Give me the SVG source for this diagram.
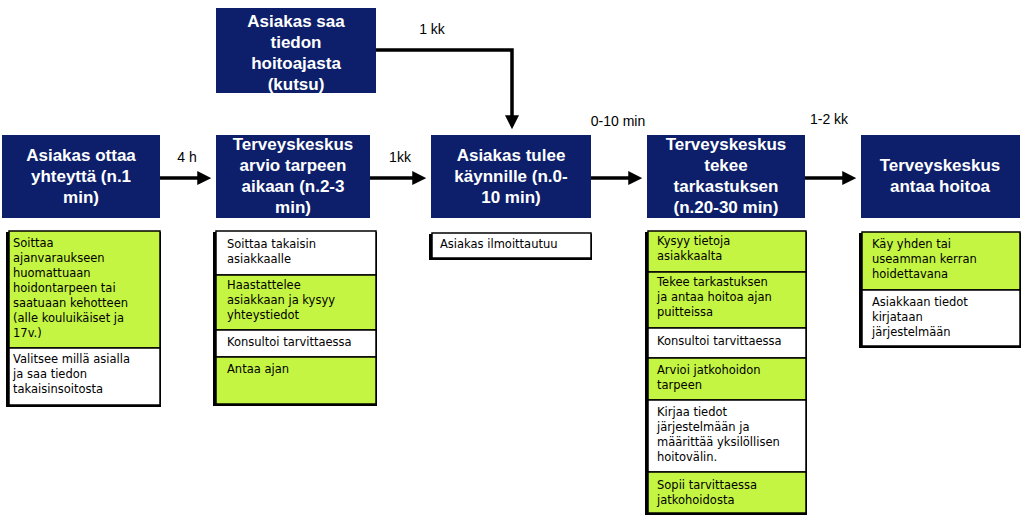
<svg xmlns="http://www.w3.org/2000/svg" width="1024" height="516" viewBox="0 0 1024 516">
<style>
.h{fill:#0d1f6b}
.ht{font-family:"Liberation Sans",Arial,sans-serif;font-weight:bold;font-size:17px;fill:#fff;text-anchor:middle}
.g{fill:#c4f542;stroke:#000;stroke-width:1.5}
.w{fill:#fff;stroke:#000;stroke-width:1.5}
.sh{fill:#000}
.t{font-family:"DejaVu Sans",Verdana,sans-serif;font-size:11.5px;fill:#000}
.lb{font-family:"Liberation Sans",Arial,sans-serif;font-size:14px;fill:#000;text-anchor:middle}
.c{stroke:#000;stroke-width:3.5;fill:none}
</style>
<defs><marker id="a" markerWidth="4" markerHeight="4" refX="2.5" refY="2" orient="auto"><path d="M0,0L4,2L0,4z" fill="#000"/></marker></defs>
<g id="connectors">
<line class="c" x1="160" y1="178" x2="206" y2="178" marker-end="url(#a)"/>
<line class="c" x1="370" y1="178" x2="421" y2="178" marker-end="url(#a)"/>
<line class="c" x1="591" y1="178" x2="637" y2="178" marker-end="url(#a)"/>
<line class="c" x1="805" y1="178" x2="851" y2="178" marker-end="url(#a)"/>
<path class="c" d="M376,50H512V124" marker-end="url(#a)"/>
<text class="lb" x="187" y="162">4 h</text>
<text class="lb" x="400" y="162">1kk</text>
<text class="lb" x="618" y="126">0-10 min</text>
<text class="lb" x="829" y="124">1-2 kk</text>
<text class="lb" x="432" y="34">1 kk</text>
</g>
<g id="top"><rect class="h" x="216" y="8" width="160" height="85"/>
<text class="ht" y="27"><tspan x="296">Asiakas saa</tspan><tspan x="296" dy="21">tiedon</tspan><tspan x="296" dy="21">hoitoajasta</tspan><tspan x="296" dy="21">(kutsu)</tspan></text></g>
<g id="n1"><rect class="h" x="2" y="135" width="158" height="83"/>
<text class="ht" y="161"><tspan x="81">Asiakas ottaa</tspan><tspan x="81" dy="21">yhteyttä (n.1</tspan><tspan x="81" dy="21">min)</tspan></text></g>
<g id="n2"><rect class="h" x="216" y="135" width="154" height="83"/>
<text class="ht" y="150"><tspan x="293">Terveyskeskus</tspan><tspan x="293" dy="21">arvio tarpeen</tspan><tspan x="293" dy="21">aikaan (n.2-3</tspan><tspan x="293" dy="21">min)</tspan></text></g>
<g id="n3"><rect class="h" x="431" y="135" width="160" height="83"/>
<text class="ht" y="161"><tspan x="511">Asiakas tulee</tspan><tspan x="511" dy="21">käynnille (n.0-</tspan><tspan x="511" dy="21">10 min)</tspan></text></g>
<g id="n4"><rect class="h" x="647" y="135" width="158" height="83"/>
<text class="ht" y="150"><tspan x="726">Terveyskeskus</tspan><tspan x="726" dy="21">tekee</tspan><tspan x="726" dy="21">tarkastuksen</tspan><tspan x="726" dy="21">(n.20-30 min)</tspan></text></g>
<g id="n5"><rect class="h" x="861" y="135" width="159" height="83"/>
<text class="ht" y="171"><tspan x="940">Terveyskeskus</tspan><tspan x="940" dy="21">antaa hoitoa</tspan></text></g>
<g id="l1"><rect class="sh" x="6" y="232" width="155" height="175"/>
<rect class="g" x="9" y="231" width="151" height="117"/><rect class="w" x="9" y="348" width="151" height="57"/>
<text class="t" y="247"><tspan x="13">Soittaa</tspan><tspan x="13" dy="15">ajanvaraukseen</tspan><tspan x="13" dy="15">huomattuaan</tspan><tspan x="13" dy="15">hoidontarpeen  tai</tspan><tspan x="13" dy="15">saatuaan kehotteen</tspan><tspan x="13" dy="15">(alle kouluikäiset  ja</tspan><tspan x="13" dy="15">17v.)</tspan></text>
<text class="t" y="363"><tspan x="13">Valitsee  millä  asialla</tspan><tspan x="13" dy="15">ja saa tiedon</tspan><tspan x="13" dy="15">takaisinsoitosta</tspan></text></g>
<g id="l2"><rect class="sh" x="213" y="232" width="164" height="174"/>
<rect class="w" x="216" y="231" width="160" height="44"/><rect class="g" x="216" y="275" width="160" height="55"/><rect class="w" x="216" y="330" width="160" height="27"/><rect class="g" x="216" y="357" width="160" height="47"/>
<text class="t" y="248"><tspan x="227">Soittaa takaisin</tspan><tspan x="227" dy="15">asiakkaalle</tspan></text>
<text class="t" y="289"><tspan x="227">Haastattelee</tspan><tspan x="227" dy="15">asiakkaan  ja  kysyy</tspan><tspan x="227" dy="15">yhteystiedot</tspan></text>
<text class="t" x="227" y="346">Konsultoi  tarvittaessa</text>
<text class="t" x="227" y="373">Antaa ajan</text></g>
<g id="l3"><rect class="sh" x="429" y="234" width="163" height="26"/>
<rect class="w" x="432" y="233" width="159" height="25"/>
<text class="t" x="440" y="248">Asiakas ilmoittautuu</text></g>
<g id="l4"><rect class="sh" x="645" y="232" width="162" height="283"/>
<rect class="g" x="648" y="231" width="158" height="41"/><rect class="g" x="648" y="272" width="158" height="56"/><rect class="w" x="648" y="328" width="158" height="30"/><rect class="g" x="648" y="358" width="158" height="42"/><rect class="w" x="648" y="400" width="158" height="72"/><rect class="g" x="648" y="472" width="158" height="41"/>
<text class="t" y="245"><tspan x="657">Kysyy tietoja</tspan><tspan x="657" dy="15">asiakkaalta</tspan></text>
<text class="t" y="286"><tspan x="657">Tekee tarkastuksen</tspan><tspan x="657" dy="15">ja antaa hoitoa ajan</tspan><tspan x="657" dy="15">puitteissa</tspan></text>
<text class="t" x="657" y="345">Konsultoi  tarvittaessa</text>
<text class="t" y="374"><tspan x="657">Arvioi jatkohoidon</tspan><tspan x="657" dy="15">tarpeen</tspan></text>
<text class="t" y="416"><tspan x="657">Kirjaa  tiedot</tspan><tspan x="657" dy="15">järjestelmään  ja</tspan><tspan x="657" dy="15">määrittää yksilöllisen</tspan><tspan x="657" dy="15">hoitovälin.</tspan></text>
<text class="t" y="489"><tspan x="657">Sopii  tarvittaessa</tspan><tspan x="657" dy="15">jatkohoidosta</tspan></text></g>
<g id="l5"><rect class="sh" x="859" y="233" width="162" height="115"/>
<rect class="g" x="862" y="232" width="158" height="58"/><rect class="w" x="862" y="290" width="158" height="56"/>
<text class="t" y="248"><tspan x="872">Käy yhden tai</tspan><tspan x="872" dy="15">useamman  kerran</tspan><tspan x="872" dy="15">hoidettavana</tspan></text>
<text class="t" y="306"><tspan x="872">Asiakkaan  tiedot</tspan><tspan x="872" dy="15">kirjataan</tspan><tspan x="872" dy="15">järjestelmään</tspan></text></g>
</svg>
